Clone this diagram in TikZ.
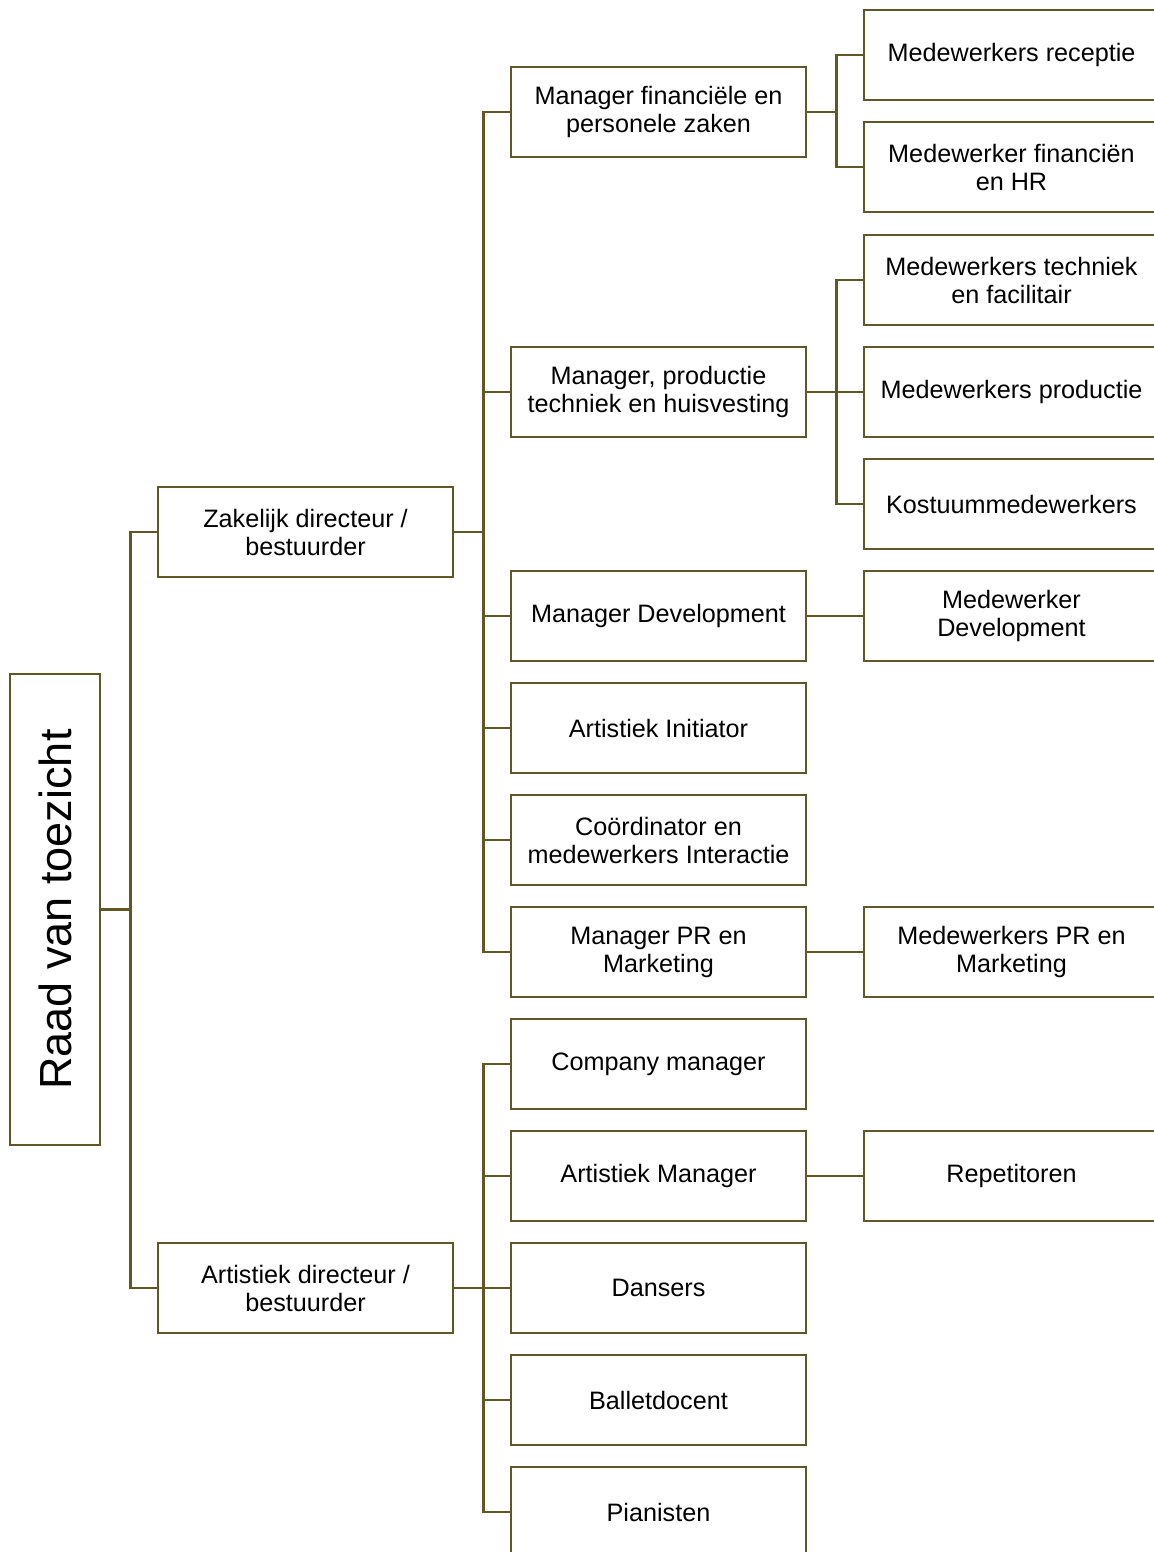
\documentclass[tikz,border=0pt]{standalone}
\usepackage{fontspec}
\setmainfont{Liberation Sans}
\definecolor{olive}{RGB}{98,86,36}
\begin{document}
\begin{tikzpicture}[x=0.5pt,y=-0.5pt,
  box/.style={draw=olive,line width=1.4pt,fill=white,minimum width=147.5pt,minimum height=45pt,inner sep=2pt,align=center,font=\fontsize{12.6}{14}\selectfont},
  conn/.style={draw=olive,line width=1.4pt}]
\useasboundingbox[fill=white] (0,0) rectangle (1153,1552);
% level 1
\node[draw=olive,line width=1.4pt,minimum width=45pt,minimum height=235.5pt,inner sep=0pt] (raad) at (55,909.5) {};
\node[rotate=90,font=\fontsize{22.5}{26}\selectfont] (raadt) at (raad.center) {Raad van toezicht};
% level 2
\node[box] (zak) at (305.5,532) {Zakelijk directeur /\\bestuurder};
\node[box] (art) at (305.5,1288) {Artistiek directeur /\\bestuurder};
% level 3
\node[box] (mfin) at (658.5,112) {Manager financiële en\\personele zaken};
\node[box] (mprod) at (658.5,392) {Manager, productie\\techniek en huisvesting};
\node[box] (mdev) at (658.5,616) {Manager Development};
\node[box] (ainit) at (658.5,728) {Artistiek Initiator};
\node[box] (coord) at (658.5,840) {Coördinator en\\medewerkers Interactie};
\node[box] (mpr) at (658.5,952) {Manager PR en\\Marketing};
\node[box] (comp) at (658.5,1064) {Company manager};
\node[box] (aman) at (658.5,1176) {Artistiek Manager};
\node[box] (dans) at (658.5,1288) {Dansers};
\node[box] (ballet) at (658.5,1400) {Balletdocent};
\node[box] (pian) at (658.5,1512) {Pianisten};
% level 4
\node[box] (rec) at (1011.5,55) {Medewerkers receptie};
\node[box] (fin) at (1011.5,167) {Medewerker financiën\\en HR};
\node[box] (tech) at (1011.5,280) {Medewerkers techniek\\en facilitair};
\node[box] (prod) at (1011.5,392) {Medewerkers productie};
\node[box] (kost) at (1011.5,504) {Kostuummedewerkers};
\node[box] (dev) at (1011.5,616) {Medewerker\\Development};
\node[box] (pr) at (1011.5,952) {Medewerkers PR en\\Marketing};
\node[box] (rep) at (1011.5,1176) {Repetitoren};
% connectors
\foreach \t in {zak,art} \draw[conn] (raad.east) -- ++(29,0) |- (\t.west);
\foreach \t in {mfin,mprod,mdev,ainit,coord,mpr} \draw[conn] (zak.east) -- ++(29,0) |- (\t.west);
\foreach \t in {comp,aman,dans,ballet,pian} \draw[conn] (art.east) -- ++(29,0) |- (\t.west);
\foreach \t in {rec,fin} \draw[conn] (mfin.east) -- ++(29,0) |- (\t.west);
\foreach \t in {tech,prod,kost} \draw[conn] (mprod.east) -- ++(29,0) |- (\t.west);
\draw[conn] (mdev.east) -- (dev.west);
\draw[conn] (mpr.east) -- (pr.west);
\draw[conn] (aman.east) -- (rep.west);
\end{tikzpicture}
\end{document}
